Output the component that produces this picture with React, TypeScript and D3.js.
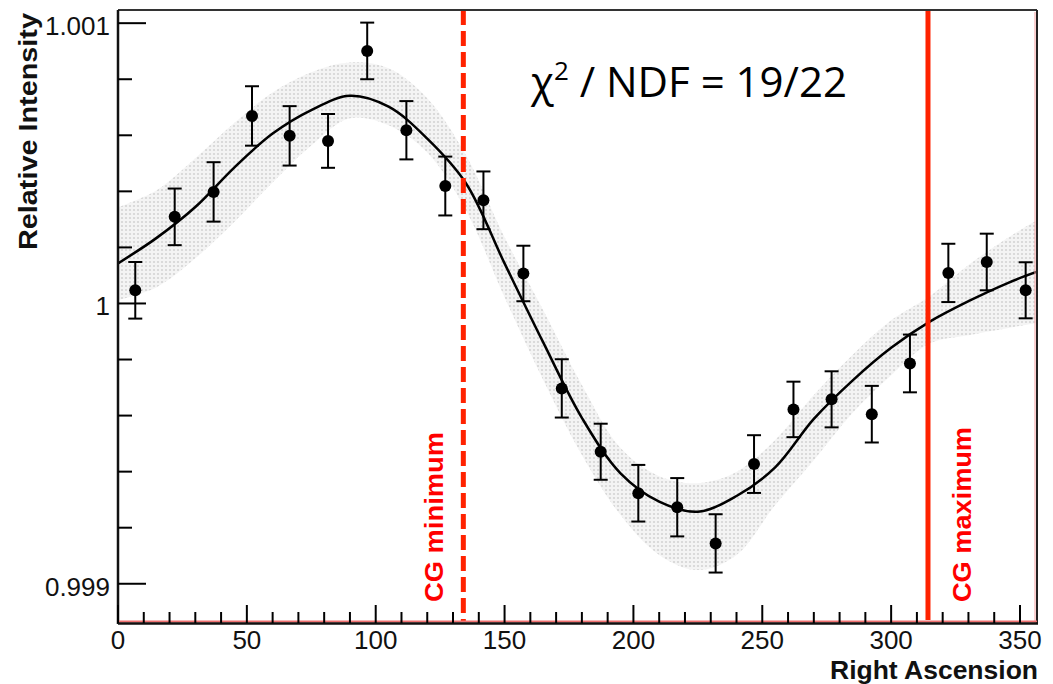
import React from 'react';
import * as d3 from 'd3';

// ---- data ----
const pointRA = [6.7, 22, 37.1, 52, 66.6, 81.5, 96.7, 111.9, 127, 141.8, 157.3, 172.2, 187.3, 201.9, 217, 231.9, 246.8, 262.1, 276.9, 292.5, 307.3, 322.2, 337.1, 352.2];
const pointIntensity = [1.000047, 1.000309, 1.000398, 1.000669, 1.000598, 1.00058, 1.000901, 1.000618, 1.000419, 1.000368, 1.000107, 0.999697, 0.999471, 0.999323, 0.999273, 0.999144, 0.999427, 0.999622, 0.999658, 0.999605, 0.999786, 1.000109, 1.000148, 1.000047];
const pointError = [0.000101, 0.000101, 0.000106, 0.000106, 0.000106, 0.000096, 0.000101, 0.000104, 0.000105, 0.000103, 0.000099, 0.000104, 0.0001, 0.000101, 0.000104, 0.000104, 0.000103, 0.000099, 0.0001, 0.000101, 0.000103, 0.000104, 0.000101, 0.0001];

const fitRA = [0, 15, 30, 45, 60, 75, 90, 105, 120, 135, 150, 165, 180, 195, 210, 225, 240, 255, 270, 285, 300, 315, 330, 345, 356.6];
const fitCurve = [1.000143, 1.000234, 1.000344, 1.000484, 1.000606, 1.00069, 1.000741, 1.000702, 1.000588, 1.000429, 1.000143, 0.999861, 0.999592, 0.999394, 0.999293, 0.999257, 0.999313, 0.999415, 0.999588, 0.999725, 0.999842, 0.999935, 1.000008, 1.000072, 1.000113];
const bandUpper = [1.000343, 1.000404, 1.000518, 1.000643, 1.000753, 1.000825, 1.00086, 1.000839, 1.000732, 1.000529, 1.000236, 0.999976, 0.999709, 0.999484, 0.999384, 0.999359, 0.999399, 0.999513, 0.999673, 0.999816, 0.99994, 1.000026, 1.000137, 1.000233, 1.000297];
const bandLower = [1.000012, 1.000058, 1.000161, 1.00029, 1.000432, 1.000564, 1.000661, 1.000636, 1.000539, 1.000333, 1.000022, 0.999727, 0.999459, 0.999245, 0.999103, 0.999049, 0.999103, 0.999281, 0.999441, 0.999609, 0.999744, 0.999858, 0.999887, 0.999912, 0.99993];

const xMajorTicks = [0, 50, 100, 150, 200, 250, 300, 350];
const xTickLabels = ['0', '50', '100', '150', '200', '250', '300', '350'];
const yMajorTicks = [0.999, 1, 1.001];
const yTickLabels = ['0.999', '1', '1.001'];

const cgMinimumRA = 134;
const cgMaximumRA = 314.3;

const xTitle = 'Right Ascension';
const yTitle = 'Relative Intensity';
const chiLabel = { base: 'χ', sup: '2', rest: ' / NDF = 19/22' };

// ---- layout ----
const W = 1053;
const H = 684;
const L = 118, R = 1037, T = 10, B = 623;

export default function App() {
  const x = d3.scaleLinear().domain([0, 356.6]).range([L, R]);
  const y = d3.scaleLinear().domain([0.99886, 1.001047]).range([B, T]);

  const xMinor = d3.range(0, 357, 10).filter((v) => v % 50 !== 0);
  const yMinor = d3.range(0.9990, 1.00105, 0.0002).filter((v) => yMajorTicks.every((m) => Math.abs(m - v) > 1e-7));

  const fitData = fitRA.map((ra, i) => ({ ra, v: fitCurve[i], hi: bandUpper[i], lo: bandLower[i] }));
  const curve = d3.curveCatmullRom.alpha(0.5);
  const lineGen = d3.line<any>().x((d) => x(d.ra)).y((d) => y(d.v)).curve(curve);
  const areaGen = d3.area<any>().x((d) => x(d.ra)).y0((d) => y(d.lo)).y1((d) => y(d.hi)).curve(curve);

  const font = "'Liberation Sans', Arial, Helvetica, sans-serif";
  const red = '#ff2200';

  return (
    <svg width={W} height={H} style={{ position: 'absolute', left: 0, top: 0, background: '#fff' }} fontFamily={font}>
      <defs>
        <pattern id="dots" width="4" height="4" patternUnits="userSpaceOnUse">
          <rect width="4" height="4" fill="#f4f4f4" />
          <circle cx="2" cy="2" r="1.1" fill="#d4d4d4" />
        </pattern>
        <clipPath id="frame">
          <rect x={L} y={T} width={R - L} height={B - T} />
        </clipPath>
      </defs>

      <g clipPath="url(#frame)">
        <path d={areaGen(fitData) || ''} fill="url(#dots)" stroke="none" />
        <path d={lineGen(fitData) || ''} fill="none" stroke="#000" strokeWidth={2.5} />
      </g>

      {/* data points with error bars */}
      {pointRA.map((ra, i) => {
        const cx = x(ra);
        const yt = y(pointIntensity[i] + pointError[i]);
        const yb = y(pointIntensity[i] - pointError[i]);
        return (
          <g key={i} stroke="#000" strokeWidth={2}>
            <line x1={cx} x2={cx} y1={yt} y2={yb} />
            <line x1={cx - 7} x2={cx + 7} y1={yt} y2={yt} />
            <line x1={cx - 7} x2={cx + 7} y1={yb} y2={yb} />
            <circle cx={cx} cy={y(pointIntensity[i])} r={6} fill="#000" stroke="none" />
          </g>
        );
      })}

      {/* CG lines */}
      <line x1={x(cgMinimumRA)} x2={x(cgMinimumRA)} y1={T} y2={B - 2} stroke={red} strokeWidth={5} strokeDasharray="15,6" />
      <line x1={x(cgMaximumRA)} x2={x(cgMaximumRA)} y1={T} y2={B - 3} stroke={red} strokeWidth={5} />

      <text transform={`translate(443,602) rotate(-90)`} fill="#ff0000" fontWeight="bold" fontSize={25} textLength={170} lengthAdjust="spacingAndGlyphs">CG minimum</text>
      <text transform={`translate(971,602) rotate(-90)`} fill="#ff0000" fontWeight="bold" fontSize={26} textLength={175} lengthAdjust="spacingAndGlyphs">CG maximum</text>

      {/* frame */}
      <line x1={L} x2={R} y1={T} y2={T} stroke="#333" strokeWidth={2} />
      <line x1={R} x2={R} y1={T} y2={B + 1} stroke="#222" strokeWidth={2} />
      <line x1={R - 2} x2={R - 2} y1={T + 2} y2={B} stroke="#f4a0a0" strokeWidth={1} />
      <line x1={L} x2={L} y1={T} y2={B + 1} stroke="#111" strokeWidth={2.5} />
      <line x1={L} x2={R} y1={B - 1.5} y2={B - 1.5} stroke="#f07070" strokeWidth={2} />
      <line x1={L} x2={R + 1} y1={B + 0.5} y2={B + 0.5} stroke="#111" strokeWidth={2.5} />

      {/* x ticks */}
      {xMajorTicks.map((t, i) => (
        <g key={'xm' + t}>
          <line x1={x(t)} x2={x(t)} y1={B} y2={B - 18} stroke="#000" strokeWidth={2} />
          <text x={x(t)} y={649} textAnchor="middle" fontSize={26} fill="#111">{xTickLabels[i]}</text>
        </g>
      ))}
      {xMinor.map((t) => (
        <line key={'xn' + t} x1={x(t)} x2={x(t)} y1={B} y2={B - 11} stroke="#000" strokeWidth={2} />
      ))}

      {/* y ticks */}
      {yMajorTicks.map((t, i) => (
        <g key={'ym' + t}>
          <line x1={L} x2={L + 28} y1={y(t)} y2={y(t)} stroke="#000" strokeWidth={2} />
          <text x={110} y={y(t) + 12} textAnchor="end" fontSize={26} fill="#111">{yTickLabels[i]}</text>
        </g>
      ))}
      {yMinor.map((t) => (
        <line key={'yn' + t} x1={L} x2={L + 14} y1={y(t)} y2={y(t)} stroke="#000" strokeWidth={2} />
      ))}

      {/* axis titles */}
      <text x={1038} y={679} textAnchor="end" fontSize={25} fontWeight="bold" fill="#111" textLength={208} lengthAdjust="spacingAndGlyphs">{xTitle}</text>
      <text transform="translate(37,250) rotate(-90)" fontSize={26} fontWeight="bold" fill="#111" textLength={237} lengthAdjust="spacingAndGlyphs">{yTitle}</text>

      {/* chi2 annotation */}
      <text x={531} y={97} fontSize={42} fill="#000" fontFamily="'Open Sans', 'Liberation Sans', sans-serif">
        <tspan>{chiLabel.base}</tspan>
        <tspan dy={-17} fontSize={26}>{chiLabel.sup}</tspan>
        <tspan dy={17}>{chiLabel.rest}</tspan>
      </text>
    </svg>
  );
}
